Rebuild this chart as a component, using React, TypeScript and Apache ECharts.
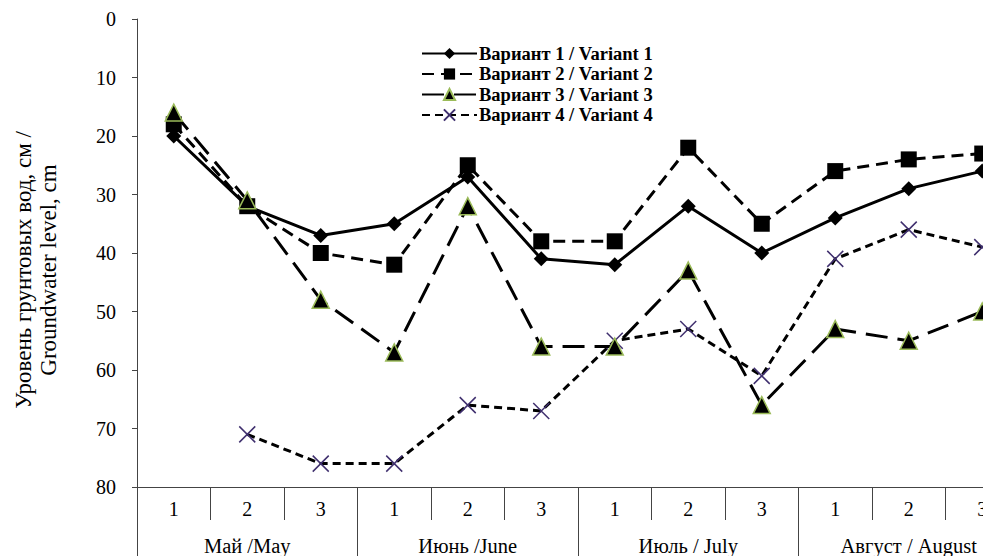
import React, { useEffect, useRef } from "react";
import * as echarts from "echarts";

const decades = ["1", "2", "3", "1", "2", "3", "1", "2", "3", "1", "2", "3"];
const months = ["Май /May", "Июнь /June", "Июль / July", "Август / August"];
const yTicks = [0, 10, 20, 30, 40, 50, 60, 70, 80];

const variant1 = [20, 32, 37, 35, 27, 41, 42, 32, 40, 34, 29, 26];
const variant2 = [18, 32, 40, 42, 25, 38, 38, 22, 35, 26, 24, 23];
const variant3 = [16, 31, 48, 57, 32, 56, 56, 43, 66, 53, 55, 50];
const variant4 = [null, 71, 76, 76, 66, 67, 55, 53, 61, 41, 36, 39];

const names = [
  "Вариант 1 / Variant 1",
  "Вариант 2 / Variant 2",
  "Вариант 3 / Variant 3",
  "Вариант 4 / Variant 4",
];
const yName = "Уровень грунтовых вод, см /\nGroundwater level, cm";

const SERIF = "'Liberation Serif', 'Times New Roman', serif";
const AXIS = "#444";

export default function App() {
  const ref = useRef<HTMLDivElement>(null);
  useEffect(() => {
    if (!ref.current) return;
    const chart = echarts.init(ref.current, null, { renderer: "svg" });
    chart.setOption({
      animation: false,
      backgroundColor: "#ffffff",
      textStyle: { fontFamily: SERIF },
      grid: { left: 137, top: 19, width: 882, height: 471, containLabel: false },
      legend: {
        orient: "vertical",
        left: 416,
        top: 39,
        itemWidth: 55,
        itemHeight: 14,
        itemGap: 1.5,
        data: names,
        textStyle: {
          fontFamily: SERIF,
          fontWeight: "bold",
          fontSize: 18.5,
          color: "#000",
          padding: [0, 0, 0, -3],
        },
      },
      graphic: [
        {
          type: "text",
          x: 36,
          y: 270,
          rotation: Math.PI / 2,
          style: {
            text: yName,
            align: "center",
            verticalAlign: "middle",
            fontFamily: SERIF,
            fontSize: 23,
            lineHeight: 25,
            fill: "#000",
          },
        },
      ],
      xAxis: [
        {
          type: "category",
          data: decades,
          boundaryGap: true,
          position: "bottom",
          axisLine: { show: true, onZero: false, lineStyle: { color: AXIS, width: 1 } },
          axisTick: { show: true, interval: 0, length: 33, lineStyle: { color: AXIS } },
          axisLabel: { interval: 0, margin: 12, fontSize: 20, color: "#000", fontFamily: SERIF },
          splitLine: { show: false },
        },
        {
          type: "category",
          data: months,
          boundaryGap: true,
          position: "bottom",
          axisLine: { show: false, onZero: false },
          axisTick: { show: true, interval: 0, length: 70, lineStyle: { color: AXIS } },
          axisLabel: { interval: 0, margin: 48, fontSize: 20.5, color: "#000", fontFamily: SERIF },
          splitLine: { show: false },
        },
      ],
      yAxis: {
        type: "value",
        inverse: true,
        min: 0,
        max: 80,
        interval: 10,
        axisLine: { show: true, lineStyle: { color: AXIS, width: 1 } },
        axisTick: { show: true, length: 5, lineStyle: { color: AXIS } },
        axisLabel: {
          margin: 21,
          fontSize: 20,
          color: "#000",
          fontFamily: SERIF,
          formatter: (v: number) => (yTicks.includes(v) ? String(v) : ""),
        },
        splitLine: { show: false },
      },
      series: [
        {
          name: names[0],
          type: "line",
          data: variant1,
          symbol: "diamond",
          symbolSize: 15,
          itemStyle: { color: "#000" },
          lineStyle: { color: "#000", width: 3, type: "solid" },
          z: 4,
        },
        {
          name: names[1],
          type: "line",
          data: variant2,
          symbol: "rect",
          symbolSize: 16,
          itemStyle: { color: "#000" },
          lineStyle: { color: "#000", width: 3, type: [12, 7] },
          z: 3,
        },
        {
          name: names[2],
          type: "line",
          data: variant3,
          symbol: "triangle",
          symbolSize: 17,
          itemStyle: { color: "#000", borderColor: "#9bbb59", borderWidth: 1.5 },
          lineStyle: { color: "#000", width: 3, type: [22, 10] },
          z: 5,
        },
        {
          name: names[3],
          type: "line",
          data: variant4,
          symbol: "path://M0,0L10,10M10,0L0,10",
          symbolSize: 16,
          connectNulls: false,
          itemStyle: { color: "none", borderColor: "#3f2f6e", borderWidth: 1.5 },
          lineStyle: { color: "#000", width: 3, type: [8, 5] },
          z: 2,
        },
      ],
    });
    return () => chart.dispose();
  }, []);
  return (
    <div
      style={{
        position: "fixed",
        left: 0,
        top: 0,
        width: 983,
        height: 556,
        overflow: "hidden",
        background: "#fff",
      }}
    >
      <div ref={ref} style={{ width: 1040, height: 556 }} />
    </div>
  );
}
